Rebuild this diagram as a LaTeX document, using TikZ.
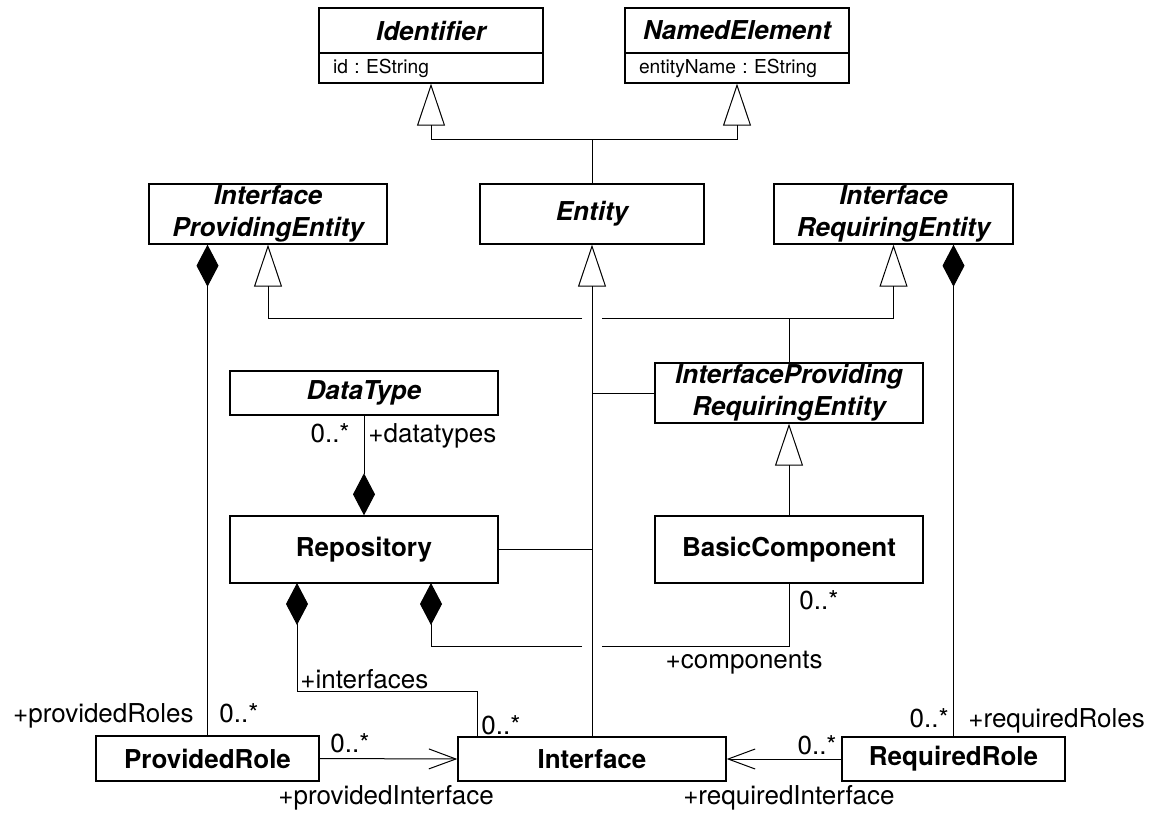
\documentclass[tikz,border=0pt]{standalone}
\usepackage{fontspec}
\setmainfont{TeX Gyre Heros}
\usetikzlibrary{arrows.meta}
\frenchspacing

\newcommand{\umlfont}{\fontsize{13}{16}\selectfont}
\newcommand{\attrfont}{\fontsize{9.6}{12}\selectfont}
\tikzstyle{class}=[draw, line width=0.7pt, fill=white, inner sep=0pt, align=center, font=\umlfont\bfseries]
\tikzstyle{abstract}=[class, font=\umlfont\bfseries\itshape]
\tikzstyle{attr}=[draw, line width=0.7pt, inner xsep=7pt, inner ysep=0pt, text width=98pt, align=left, minimum height=15pt, font=\attrfont]
\tikzstyle{link}=[draw, line width=0.5pt]
\tikzstyle{inherit}=[link, -{Triangle[open, length=21pt, width=14pt]}]
\tikzstyle{compose}=[link, -{Diamond[length=21pt, width=11pt]}]
\tikzstyle{assoc}=[link, -{Straight Barb[length=13.5pt, width=10pt]}]
\tikzstyle{role}=[font=\umlfont, inner sep=0pt]

\begin{document}
\begin{tikzpicture}[x=0.5pt, y=-0.5pt]
    \path[use as bounding box, fill=white] (0,0) rectangle (1155,814);

    % First we draw the classes
    \node[abstract, minimum width=112pt, minimum height=22.5pt] (ident) at (431,30.5) {Identifier};
    \node[attr] (identattr) at (431,68) {id : EString};
    \node[abstract, minimum width=112pt, minimum height=22.5pt] (named) at (737,30.5) {NamedElement};
    \node[attr] (namedattr) at (737,68) {entityName : EString};

    \node[abstract, minimum width=119pt, minimum height=30pt] (ipe) at (268,214) {Interface\\ProvidingEntity};
    \node[abstract, minimum width=112pt, minimum height=30pt] (entity) at (592,214) {Entity};
    \node[abstract, minimum width=119.5pt, minimum height=30pt] (ire) at (893.5,214) {Interface\\RequiringEntity};

    \node[abstract, minimum width=134pt, minimum height=30pt] (ipre) at (789,393) {InterfaceProviding\\RequiringEntity};
    \node[abstract, minimum width=134pt, minimum height=22pt] (datatype) at (364,393) {DataType};
    \node[class, minimum width=134pt, minimum height=33.5pt] (repo) at (364,549.5) {Repository};
    \node[class, minimum width=134pt, minimum height=33.5pt] (bcomp) at (789,549.5) {BasicComponent};

    \node[class, minimum width=111.5pt, minimum height=22.5pt] (provrole) at (207.5,758.5) {ProvidedRole};
    \node[class, minimum width=134pt, minimum height=22pt] (iface) at (592,759) {Interface};
    \node[class, minimum width=111.5pt, minimum height=22pt] (reqrole) at (953.5,759) {RequiredRole};

    % Bends and line hops
    \coordinate (topbus) at (592,139);
    \coordinate (midbus) at (789,318);
    \coordinate (hopR) at (602,318);
    \coordinate (hopL) at (582,318);
    \coordinate (repoA) at (297,583);
    \coordinate (repoB) at (431,583);
    \coordinate (ifaceA) at (477,737);
    \coordinate (comphopR) at (602,646);
    \coordinate (comphopL) at (582,646);

    % Generalizations
    \path[link] (entity.north) -- (topbus);
    \path[inherit] (topbus) -| (identattr.south);
    \path[inherit] (topbus) -| (namedattr.south);
    \path[link] (ipre.north) -- (midbus);
    \path[inherit] (midbus) -| (ire.south);
    \path[link] (midbus) -- (hopR);
    \path[inherit] (hopL) -| (ipe.south);
    \path[inherit] (iface.north) -- (entity.south);
    \path[link] (repo.east) -- (repo.east -| entity.south);
    \path[link] (ipre.west) -- (ipre.west -| entity.south);
    \path[inherit] (bcomp.north) -- (ipre.south);

    % Compositions
    \path[compose] (provrole.north) -- (provrole.north |- ipe.south);
    \path[compose] (reqrole.north) -- (reqrole.north |- ire.south);
    \path[compose] (datatype.south) -- (repo.north);
    \path[compose] (ifaceA) -- ++(0,-46) -| (repoA);
    \path[link] (bcomp.south) |- (comphopR);
    \path[compose] (comphopL) -| (repoB);

    % Associations
    \path[assoc] (provrole.east) -- (iface.west);
    \path[assoc] (reqrole.west) -- (iface.east);

    % Role names and multiplicities
    \foreach \pos/\anc/\name/\txt in {{(350,442)/base east/dtmult/0..*}, {(368,442)/base west/dtrole/+datatypes},
        {(194,722)/base east/provroles/+providedRoles}, {(219,722)/base west/provmult/0..*},
        {(300,688)/base west/ifcrole/+interfaces}, {(481,734)/base west/ifcmult/0..*},
        {(330,752)/base west/provifcmult/0..*}, {(278,804)/base west/provifcrole/+providedInterface},
        {(799,609)/base west/compmult/0..*}, {(823,668)/base east/comprole/+components},
        {(949,727)/base east/reqmult/0..*}, {(968,727)/base west/reqroles/+requiredRoles},
        {(837,754)/base east/reqifcmult/0..*}, {(895,804)/base east/reqifcrole/+requiredInterface}}
        \node[role, anchor=\anc] (\name) at \pos {\txt};
\end{tikzpicture}
\end{document}
